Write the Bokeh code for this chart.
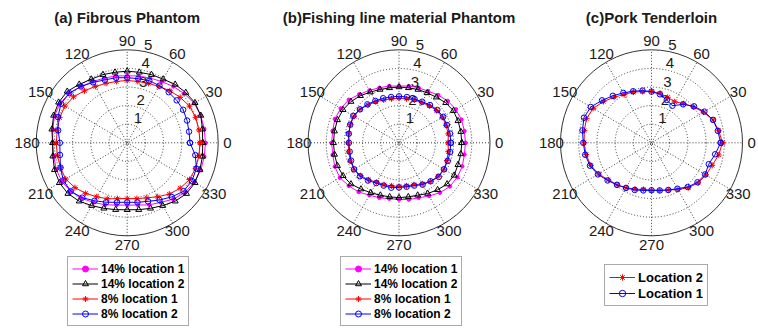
import numpy as np
from bokeh.plotting import figure
from bokeh.models import ColumnDataSource, Range1d, Legend, LegendItem
from bokeh.core.properties import value
from bokeh.embed import file_html
from bokeh.resources import INLINE

# ---------------- data (radius per 10 degrees, 0..350) ----------------
angles_deg = list(range(0, 360, 10))

a_14_loc1 = [4.30, 4.30, 4.30, 4.25, 4.10, 3.95, 3.80, 3.70, 3.65, 3.60, 3.65, 3.70,
             3.80, 3.95, 4.15, 4.25, 4.25, 4.15, 4.10, 4.10, 4.15, 4.15, 4.05, 3.90,
             3.70, 3.55, 3.40, 3.35, 3.40, 3.55, 3.70, 3.95, 4.15, 4.25, 4.30, 4.30]
a_14_loc2 = [4.15, 4.20, 4.30, 4.30, 4.20, 4.10, 3.95, 3.90, 3.85, 3.85, 3.85, 3.90,
             3.95, 4.10, 4.30, 4.35, 4.30, 4.20, 4.10, 4.15, 4.25, 4.30, 4.25, 4.10,
             3.90, 3.75, 3.65, 3.60, 3.65, 3.75, 3.90, 4.10, 4.25, 4.30, 4.25, 4.20]
a_8_loc1 = [4.00, 4.00, 4.00, 3.95, 3.80, 3.65, 3.50, 3.40, 3.35, 3.35, 3.35, 3.40,
            3.50, 3.65, 3.85, 3.95, 3.95, 3.90, 3.90, 3.90, 3.90, 3.90, 3.75, 3.55,
            3.35, 3.20, 3.05, 3.00, 3.05, 3.15, 3.35, 3.60, 3.80, 3.95, 4.00, 4.00]
a_8_loc2 = [3.45, 3.45, 3.50, 3.55, 3.55, 3.55, 3.55, 3.55, 3.50, 3.50, 3.55, 3.60,
            3.75, 3.95, 4.15, 4.20, 4.05, 3.85, 3.70, 3.75, 3.90, 4.05, 4.05, 3.85,
            3.60, 3.40, 3.25, 3.20, 3.25, 3.35, 3.55, 3.80, 4.05, 4.10, 4.05, 3.80]

b_14_loc1 = [3.65, 3.65, 3.65, 3.60, 3.50, 3.35, 3.20, 3.15, 3.10, 3.05, 3.10, 3.15,
             3.25, 3.40, 3.60, 3.70, 3.75, 3.70, 3.70, 3.70, 3.75, 3.75, 3.60, 3.45,
             3.25, 3.15, 3.05, 3.05, 3.10, 3.15, 3.30, 3.50, 3.65, 3.70, 3.70, 3.65]
b_14_loc2 = [3.45, 3.45, 3.45, 3.45, 3.35, 3.20, 3.10, 3.05, 3.00, 3.00, 3.00, 3.05,
             3.15, 3.30, 3.45, 3.55, 3.60, 3.60, 3.60, 3.60, 3.60, 3.55, 3.45, 3.25,
             3.10, 3.00, 2.95, 2.95, 2.95, 3.00, 3.15, 3.30, 3.45, 3.50, 3.45, 3.45]
b_8_loc1 = [2.70, 2.75, 2.75, 2.75, 2.70, 2.60, 2.50, 2.45, 2.40, 2.40, 2.40, 2.45,
            2.55, 2.65, 2.80, 2.85, 2.85, 2.80, 2.80, 2.80, 2.85, 2.85, 2.75, 2.60,
            2.45, 2.40, 2.35, 2.35, 2.35, 2.40, 2.55, 2.70, 2.80, 2.85, 2.80, 2.75]
b_8_loc2 = [2.85, 2.85, 2.80, 2.80, 2.75, 2.65, 2.55, 2.50, 2.50, 2.50, 2.50, 2.55,
            2.60, 2.70, 2.80, 2.90, 2.85, 2.80, 2.75, 2.75, 2.80, 2.85, 2.80, 2.65,
            2.50, 2.45, 2.45, 2.40, 2.40, 2.45, 2.60, 2.70, 2.85, 2.85, 2.85, 2.85]

c_loc2 = [3.90, 3.75, 3.60, 3.30, 3.00, 2.75, 2.55, 2.60, 2.70, 2.75, 2.80, 2.90,
          3.00, 3.20, 3.45, 3.70, 3.80, 3.75, 3.70, 3.65, 3.55, 3.35, 3.10, 2.95,
          2.80, 2.65, 2.55, 2.55, 2.60, 2.70, 2.90, 3.15, 3.35, 3.45, 3.55, 3.75]
c_loc1 = [3.80, 3.70, 3.60, 3.35, 3.05, 2.70, 2.30, 2.45, 2.65, 2.75, 2.85, 2.95,
          3.10, 3.30, 3.55, 3.85, 3.95, 3.85, 3.75, 3.70, 3.60, 3.40, 3.15, 2.95,
          2.80, 2.70, 2.60, 2.55, 2.60, 2.70, 2.85, 3.10, 3.30, 3.40, 3.35, 3.55]

ring_values = [1, 2, 3, 4, 5]
angle_ticks = [0, 30, 60, 90, 120, 150, 180, 210, 240, 270, 300, 330]
angle_tick_labels = ["0", "30", "60", "90", "120", "150", "180", "210", "240", "270", "300", "330"]
titles = ["(a) Fibrous Phantom", "(b)Fishing line material Phantom", "(c)Pork Tenderloin"]
labels_ab = ["14% location 1", "14% location 2", "8% location 1", "8% location 2"]
labels_c = ["Location 2", "Location 1"]

# ---------------- layout ----------------
W, H = 758, 329
SX, SY = 18.2, 18.6          # px per radial unit
centers_px = [126.7, 398.5, 651.0]
cy_px = 142.3
RMAX = 5
FONT = "Liberation Sans"
GRID = "#3a3a3a"
TXT = "#1a1a1a"

top = cy_px / SY
p = figure(width=W, height=H, x_range=Range1d(0, W / SX), y_range=Range1d(top - H / SY, top),
           x_axis_type=None, y_axis_type=None, toolbar_location=None, output_backend="svg",
           min_border=0, outline_line_color=None, background_fill_color="white")
p.grid.visible = False

cxs = [c / SX for c in centers_px]


def draw_grid(cx, title):
    inner = ring_values[:-1]
    p.ellipse(x=[cx] * len(inner), y=[0] * len(inner), width=[2 * r for r in inner],
              height=[2 * r for r in inner], fill_color=None, line_color=GRID,
              line_dash="1 2", line_width=1)
    sp = np.radians(np.array(angle_ticks[:6]))
    p.segment(x0=cx - RMAX * np.cos(sp), y0=-RMAX * np.sin(sp),
              x1=cx + RMAX * np.cos(sp), y1=RMAX * np.sin(sp),
              line_color=GRID, line_dash="1 2", line_width=1)
    p.ellipse(x=[cx], y=[0], width=[2 * RMAX], height=[2 * RMAX], fill_color=None,
              line_color="#333333", line_width=1)
    at = np.radians(np.array(angle_ticks))
    p.text(x=cx + 1.1 * RMAX * np.cos(at), y=1.1 * RMAX * np.sin(at), text=angle_tick_labels,
           text_align="center", text_baseline="middle", text_font=value(FONT),
           text_font_size="15px", text_color=TXT)
    rr = np.array(ring_values) + 0.05
    a82 = np.radians(82)
    p.text(x=cx + rr * np.cos(a82), y=rr * np.sin(a82), text=[str(r) for r in ring_values],
           x_offset=4, text_align="left", text_baseline="bottom", text_font=value(FONT),
           text_font_size="15px", text_color=TXT)
    p.text(x=[cx], y=[(cy_px - 17) / SY], text=[title], text_align="center",
           text_baseline="middle", text_font=value(FONT), text_font_size="15px",
           text_font_style="bold", text_color=TXT)


def series(cx, radii, color, marker, size, fill):
    th = np.radians(np.array(angles_deg + [360]))
    r = np.array(radii + [radii[0]])
    src = ColumnDataSource(dict(x=cx + r * np.cos(th), y=r * np.sin(th)))
    ln = p.line("x", "y", source=src, line_color=color, line_width=1)
    sc = p.scatter("x", "y", source=src, marker=marker, size=size, line_color=color,
                   fill_color=fill, line_width=1)
    return [ln, sc]


def legend(items, loc, fsize, rowh):
    lg = Legend(items=items, location=loc, orientation="vertical",
                label_text_font=FONT, label_text_font_style="bold",
                label_text_font_size=fsize, label_text_color="black",
                glyph_width=26, glyph_height=rowh, label_height=rowh,
                label_standoff=3, padding=4, spacing=0, margin=0,
                border_line_color="#555555", border_line_width=1,
                background_fill_color="white", background_fill_alpha=1)
    p.add_layout(lg)


for cx, t in zip(cxs, titles):
    draw_grid(cx, t)

styles_ab = [("#ff00ff", "circle", 3.5, "#ff00ff"), ("#000000", "triangle", 6, None),
             ("#ff0000", "asterisk", 6, None), ("#0000ff", "circle", 5.5, None)]

for k, (cx, data) in enumerate([(cxs[0], [a_14_loc1, a_14_loc2, a_8_loc1, a_8_loc2]),
                                (cxs[1], [b_14_loc1, b_14_loc2, b_8_loc1, b_8_loc2])]):
    items = []
    for lab, d, st in zip(labels_ab, data, styles_ab):
        rs = series(cx, d, *st)
        items.append(LegendItem(label=lab, renderers=rs))
    legend(items, (67 if k == 0 else 340, 3), "12px", 15)

items_c = []
for lab, d, st in zip(labels_c, [c_loc2, c_loc1],
                      [("#ff0000", "asterisk", 6, None), ("#0000ff", "circle", 5.5, None)]):
    rs = series(cxs[2], d, *st)
    items_c.append(LegendItem(label=lab, renderers=rs))
legend(items_c, (604, 23), "13px", 16)

open("out.html", "w").write(file_html(p, INLINE))
